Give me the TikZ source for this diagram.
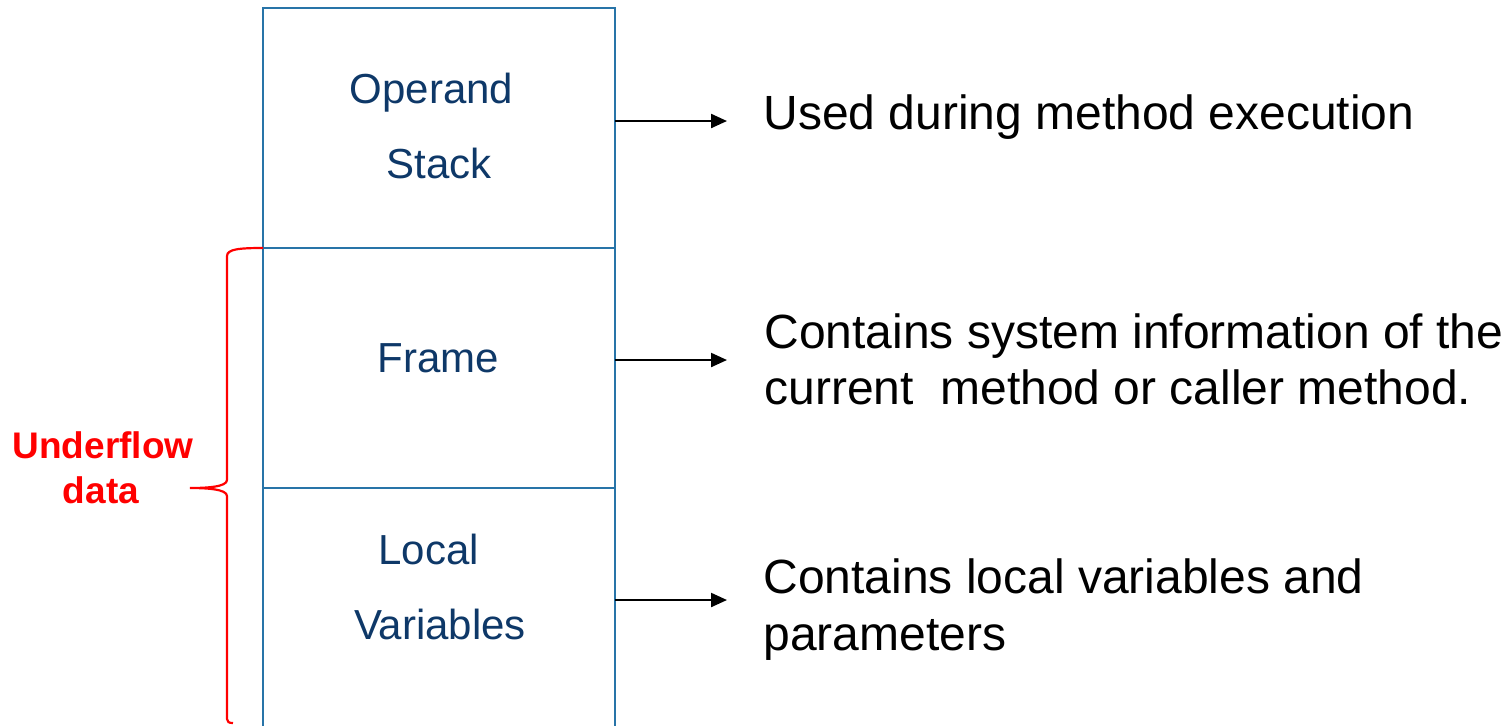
\documentclass[tikz,border=0pt]{standalone}
\usepackage{fontspec}
\setmainfont{Liberation Sans}
\usetikzlibrary{arrows.meta,calc}
\definecolor{cellblue}{RGB}{40,116,168}
\definecolor{labelnavy}{RGB}{14,56,104}
\definecolor{notered}{RGB}{255,0,0}
\tikzset{
  cell/.style={draw=cellblue,line width=1.15pt,minimum width=176pt,minimum height=120pt,inner sep=0pt,outer sep=0pt},
  celltext/.style={text=labelnavy,font=\fontsize{21}{24}\selectfont,inner sep=0pt,anchor=base},
  desc/.style={text=black,font=\fontsize{24}{28}\selectfont,inner sep=0pt,anchor=base west},
  pointer/.style={draw=black,line width=1.1pt,-{Triangle[length=8pt,width=7pt]}},
  bracestyle/.style={draw=notered,line width=1.1pt},
  notelabel/.style={text=notered,font=\bfseries\fontsize{18.5}{22}\selectfont,inner sep=0pt,anchor=base}
}
\begin{document}
\begin{tikzpicture}[x=0.5pt,y=-0.5pt]
\useasboundingbox (0,0) rectangle (1507,725);

% stack of three cells
\node[cell] (op)    at (439,128) {};
\node[cell] (frame) at (439,368) {};
\node[cell] (local) at (439,608) {};

% cell captions
\node[celltext] (opA)  at (431.5,103) {Operand};
\node[celltext] (opB)  at (439,178)   {Stack};
\node[celltext] (frT)  at (438.5,372) {Frame};
\node[celltext] (loA)  at (428.5,564) {Local};
\node[celltext] (loB)  at (440,639)   {Variables};

% descriptions on the right
\node[desc] (used) at (763,129) {Used during method execution};
\node[desc] (sys1) at (764,348) {Contains system information of the};
\node[desc] (sys2) at (764,404) {current~ method or caller method.};
\node[desc] (loc1) at (763,593) {Contains local variables and};
\node[desc] (loc2) at (763,650) {parameters};

% pointers from the cells to the descriptions
\coordinate (usedtip) at (727,121);
\coordinate (systip)  at (727,360);
\coordinate (loctip)  at (727,600);
\draw[pointer] ($(op.east)+(0,-7)$)    -- (usedtip);
\draw[pointer] ($(frame.east)+(0,-8)$) -- (systip);
\draw[pointer] ($(local.east)+(0,-8)$) -- (loctip);

% brace spanning frame and local variables
\coordinate (bracetip) at (190,488);
\coordinate (braceend) at (233,723);
\draw[bracestyle] (frame.north west)
  .. controls (240,248) and (227,249) .. (227,256)
  -- (227,480)
  .. controls (227,487) and (206,488) .. (bracetip)
  .. controls (206,488) and (227,489) .. (227,496)
  -- (227,719)
  .. controls (227,722) and (229,723) .. (braceend);

% brace label
\node[notelabel] (und1) at (103,458) {Underflow};
\node[notelabel] (und2) at (101,503) {data};
\end{tikzpicture}
\end{document}
